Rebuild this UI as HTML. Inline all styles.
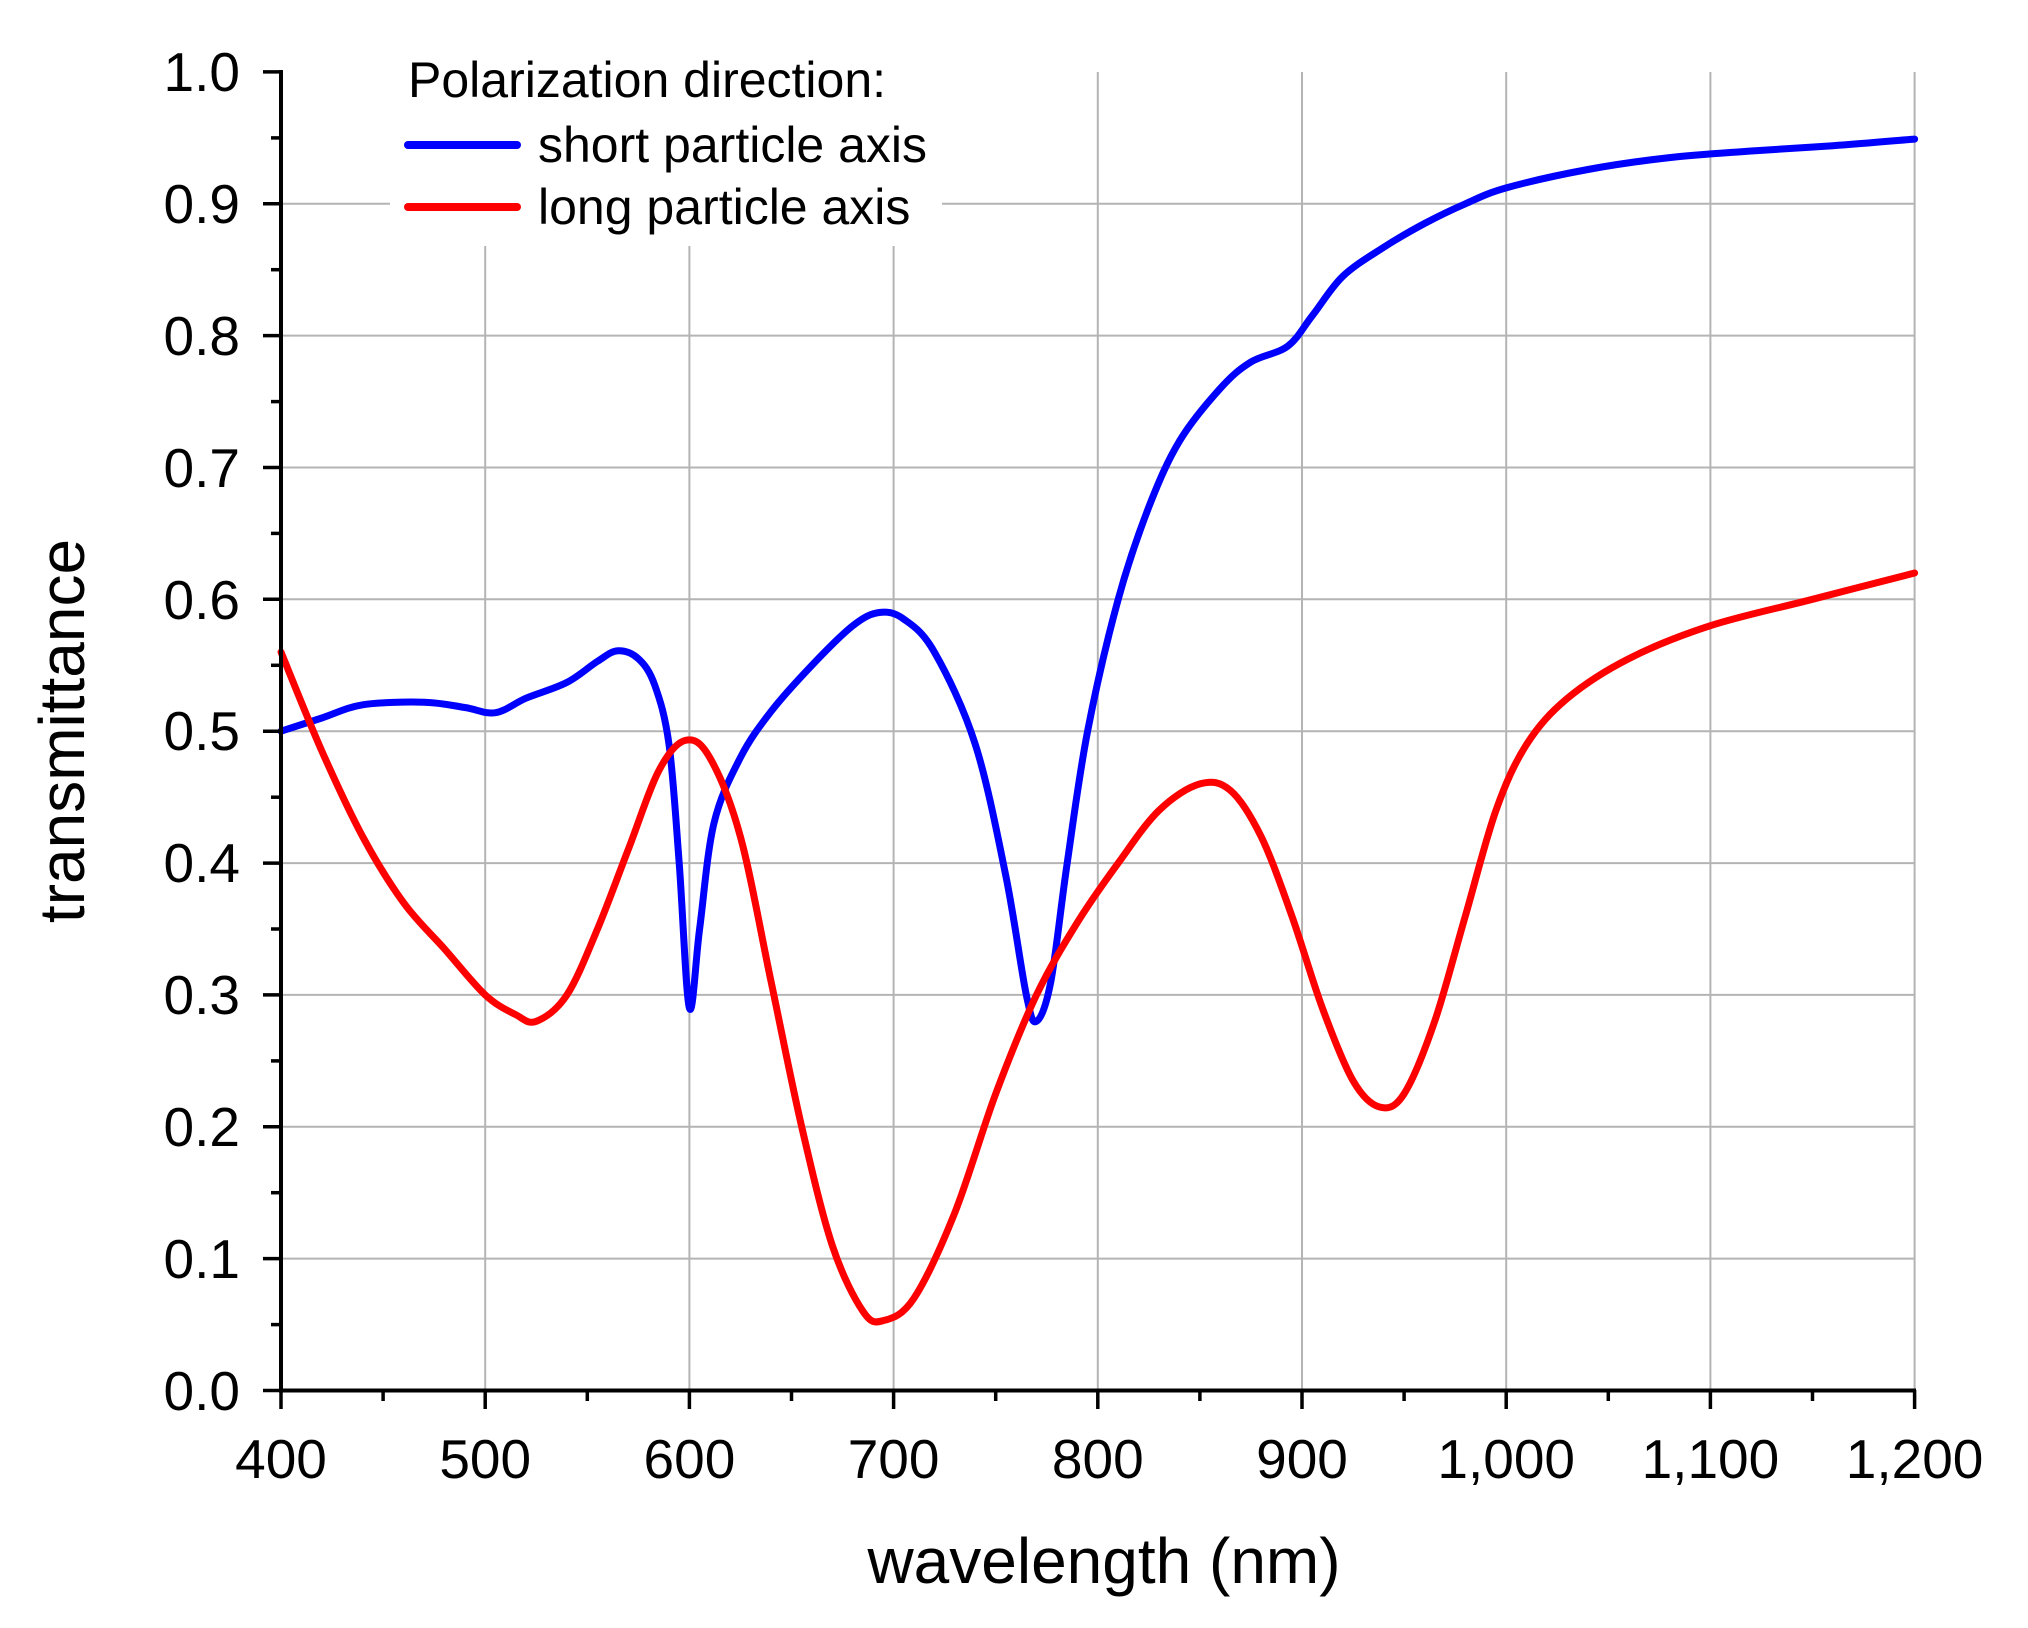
<!DOCTYPE html>
<html><head><meta charset="utf-8"><style>
html,body{margin:0;padding:0;background:#fff}
svg{display:block}
text{font-family:"Liberation Sans",Arial,sans-serif;fill:#000}
</style></head><body>
<svg width="2028" height="1628" viewBox="0 0 2028 1628" xmlns="http://www.w3.org/2000/svg">
<g stroke="#b4b4b4" stroke-width="2">
<line x1="485.2" y1="246" x2="485.2" y2="1390"/>
<line x1="689.4" y1="246" x2="689.4" y2="1390"/>
<line x1="893.6" y1="246" x2="893.6" y2="1390"/>
<line x1="1097.8" y1="72" x2="1097.8" y2="1390"/>
<line x1="1302" y1="72" x2="1302" y2="1390"/>
<line x1="1506.2" y1="72" x2="1506.2" y2="1390"/>
<line x1="1710.4" y1="72" x2="1710.4" y2="1390"/>
<line x1="1914.6" y1="72" x2="1914.6" y2="1390"/>
<line x1="281" y1="1258.6" x2="1914.6" y2="1258.6"/>
<line x1="281" y1="1126.8" x2="1914.6" y2="1126.8"/>
<line x1="281" y1="994.9" x2="1914.6" y2="994.9"/>
<line x1="281" y1="863.1" x2="1914.6" y2="863.1"/>
<line x1="281" y1="731.2" x2="1914.6" y2="731.2"/>
<line x1="281" y1="599.3" x2="1914.6" y2="599.3"/>
<line x1="281" y1="467.5" x2="1914.6" y2="467.5"/>
<line x1="281" y1="335.6" x2="1914.6" y2="335.6"/>
<line x1="281" y1="203.8" x2="1914.6" y2="203.8"/>
</g>
<rect x="390" y="46" width="552" height="194" fill="#fff"/>
<path id="blue" fill="none" stroke="#0000ff" stroke-width="7" stroke-linejoin="round" stroke-linecap="round"/>
<path id="red" fill="none" stroke="#ff0000" stroke-width="7" stroke-linejoin="round" stroke-linecap="round"/>
<g stroke="#000" stroke-width="4">
<line x1="281" y1="70" x2="281" y2="1392"/>
<line x1="279" y1="1390.5" x2="1916" y2="1390.5"/>
<g stroke-width="3.5">
<line x1="263" y1="1390.5" x2="281" y2="1390.5"/><line x1="263" y1="1258.6" x2="281" y2="1258.6"/><line x1="263" y1="1126.8" x2="281" y2="1126.8"/><line x1="263" y1="994.9" x2="281" y2="994.9"/><line x1="263" y1="863.1" x2="281" y2="863.1"/><line x1="263" y1="731.2" x2="281" y2="731.2"/><line x1="263" y1="599.3" x2="281" y2="599.3"/><line x1="263" y1="467.5" x2="281" y2="467.5"/><line x1="263" y1="335.6" x2="281" y2="335.6"/><line x1="263" y1="203.8" x2="281" y2="203.8"/><line x1="263" y1="71.9" x2="281" y2="71.9"/>
<line x1="271" y1="1324.6" x2="281" y2="1324.6"/><line x1="271" y1="1192.7" x2="281" y2="1192.7"/><line x1="271" y1="1060.9" x2="281" y2="1060.9"/><line x1="271" y1="929" x2="281" y2="929"/><line x1="271" y1="797.2" x2="281" y2="797.2"/><line x1="271" y1="665.3" x2="281" y2="665.3"/><line x1="271" y1="533.4" x2="281" y2="533.4"/><line x1="271" y1="401.6" x2="281" y2="401.6"/><line x1="271" y1="269.7" x2="281" y2="269.7"/><line x1="271" y1="137.9" x2="281" y2="137.9"/>
<line x1="281" y1="1390" x2="281" y2="1409"/><line x1="485.2" y1="1390" x2="485.2" y2="1409"/><line x1="689.4" y1="1390" x2="689.4" y2="1409"/><line x1="893.6" y1="1390" x2="893.6" y2="1409"/><line x1="1097.8" y1="1390" x2="1097.8" y2="1409"/><line x1="1302" y1="1390" x2="1302" y2="1409"/><line x1="1506.2" y1="1390" x2="1506.2" y2="1409"/><line x1="1710.4" y1="1390" x2="1710.4" y2="1409"/><line x1="1914.6" y1="1390" x2="1914.6" y2="1409"/>
<line x1="383.1" y1="1390" x2="383.1" y2="1401"/><line x1="587.3" y1="1390" x2="587.3" y2="1401"/><line x1="791.5" y1="1390" x2="791.5" y2="1401"/><line x1="995.7" y1="1390" x2="995.7" y2="1401"/><line x1="1199.9" y1="1390" x2="1199.9" y2="1401"/><line x1="1404.1" y1="1390" x2="1404.1" y2="1401"/><line x1="1608.3" y1="1390" x2="1608.3" y2="1401"/><line x1="1812.5" y1="1390" x2="1812.5" y2="1401"/>
</g></g>
<g font-size="55" text-anchor="end">
<text x="240" y="1410">0.0</text><text x="240" y="1278">0.1</text><text x="240" y="1146">0.2</text><text x="240" y="1014">0.3</text><text x="240" y="882">0.4</text><text x="240" y="750">0.5</text><text x="240" y="619">0.6</text><text x="240" y="487">0.7</text><text x="240" y="355">0.8</text><text x="240" y="223">0.9</text><text x="240" y="91">1.0</text>
</g>
<g font-size="55" text-anchor="middle">
<text x="281" y="1478">400</text><text x="485.2" y="1478">500</text><text x="689.4" y="1478">600</text><text x="893.6" y="1478">700</text><text x="1097.8" y="1478">800</text><text x="1302" y="1478">900</text><text x="1506.2" y="1478">1,000</text><text x="1710.4" y="1478">1,100</text><text x="1914.6" y="1478">1,200</text>
</g>
<text x="1104" y="1583" font-size="64" text-anchor="middle">wavelength (nm)</text>
<text transform="translate(84,731) rotate(-90)" font-size="64" text-anchor="middle">transmittance</text>
<text x="408" y="97" font-size="50">Polarization direction:</text>
<line x1="408" y1="145" x2="517" y2="145" stroke="#0000ff" stroke-width="8" stroke-linecap="round"/>
<line x1="408" y1="207" x2="517" y2="207" stroke="#ff0000" stroke-width="8" stroke-linecap="round"/>
<text x="538" y="162" font-size="50">short particle axis</text>
<text x="538" y="224" font-size="50">long particle axis</text>
</svg>
<script>
function path(d){
  var p=d.map(function(a){return [281+(a[0]-400)*2.042,1390.5-a[1]*1318.6];});
  var s="M"+p[0][0].toFixed(1)+","+p[0][1].toFixed(1);
  for(var i=0;i<p.length-1;i++){
    var p0=p[i>0?i-1:i],p1=p[i],p2=p[i+1],p3=p[i+2<p.length?i+2:i+1];
    var c1=[p1[0]+(p2[0]-p0[0])/6,p1[1]+(p2[1]-p0[1])/6];
    var c2=[p2[0]-(p3[0]-p1[0])/6,p2[1]-(p3[1]-p1[1])/6];
    s+="C"+c1[0].toFixed(1)+","+c1[1].toFixed(1)+" "+c2[0].toFixed(1)+","+c2[1].toFixed(1)+" "+p2[0].toFixed(1)+","+p2[1].toFixed(1);
  }
  return s;
}
var B=[[400,0.50],[420,0.51],[440,0.52],[470,0.522],[490,0.518],[505,0.514],[520,0.525],[540,0.537],[555,0.553],[565,0.561],[575,0.555],[583,0.535],[590,0.49],[595,0.40],[600,0.29],[605,0.35],[612,0.43],[625,0.48],[640,0.515],[660,0.55],[680,0.58],[693,0.59],[705,0.585],[720,0.56],[740,0.49],[755,0.39],[765,0.30],[770,0.28],[777,0.31],[785,0.40],[795,0.50],[810,0.60],[825,0.67],[840,0.72],[860,0.76],[875,0.78],[893,0.792],[905,0.815],[920,0.845],[940,0.867],[960,0.885],[980,0.9],[1000,0.912],[1040,0.926],[1080,0.935],[1120,0.94],[1160,0.944],[1200,0.949]];
var R=[[400,0.56],[420,0.485],[440,0.42],[460,0.37],[480,0.335],[500,0.30],[515,0.285],[525,0.28],[540,0.30],[555,0.35],[570,0.41],[585,0.47],[598,0.493],[610,0.48],[625,0.42],[640,0.31],[655,0.20],[670,0.11],[685,0.06],[695,0.053],[710,0.07],[730,0.135],[750,0.225],[770,0.30],[790,0.355],[810,0.40],[830,0.44],[850,0.46],[865,0.455],[880,0.42],[895,0.36],[910,0.29],[925,0.235],[938,0.215],[950,0.225],[965,0.28],[980,0.36],[995,0.44],[1010,0.49],[1030,0.525],[1060,0.555],[1100,0.58],[1150,0.60],[1200,0.62]];
document.getElementById("blue").setAttribute("d",path(B));
document.getElementById("red").setAttribute("d",path(R));
</script>
</body></html>
